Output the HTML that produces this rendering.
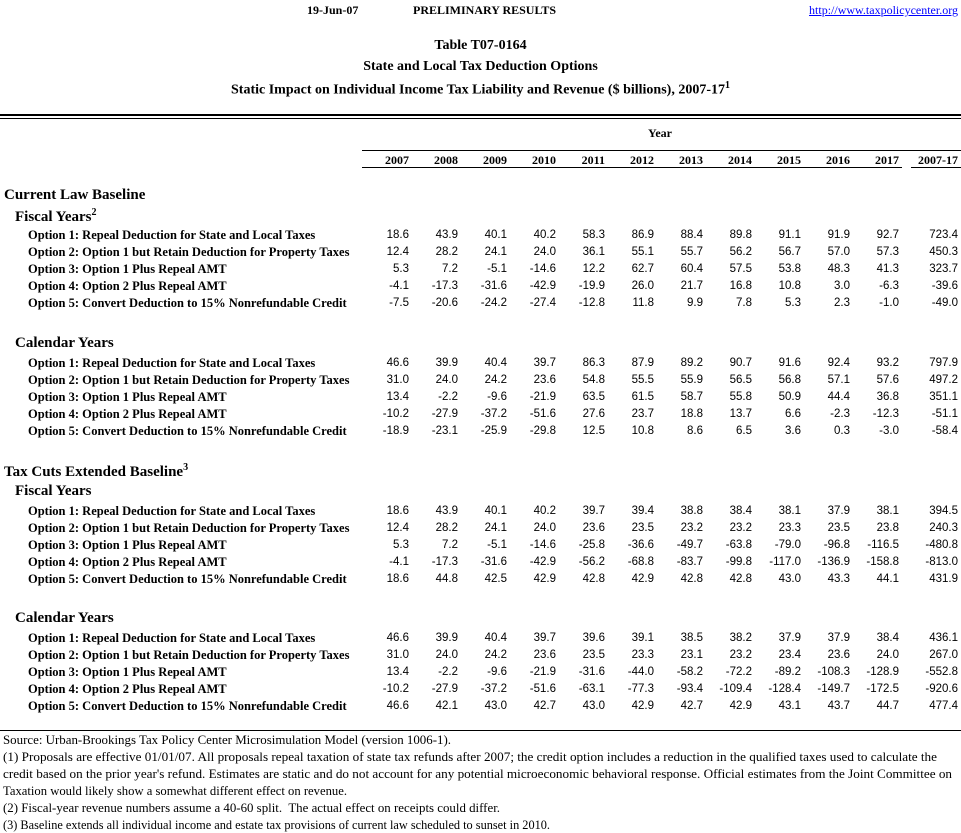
<!DOCTYPE html>
<html><head><meta charset="utf-8"><style>
body{margin:0;width:961px;height:833px;position:relative;background:#fff;color:#000;overflow:hidden;font-family:"Liberation Serif",serif}
.a{position:absolute;white-space:nowrap}
.b{font-weight:bold}
.r{position:absolute;left:0;width:961px;height:14px;line-height:14px;font-size:12px}
.r .l{position:absolute;left:28px;font-weight:bold;font-family:"Liberation Serif",serif;font-size:12.5px}
.r .n{position:absolute;left:360px;display:flex;font-family:"Liberation Sans",sans-serif;font-size:11.5px}
.n span{width:49px;text-align:right;display:block}
.n span:last-child{width:59px}
.hd .n span{font-family:"Liberation Serif",serif;font-weight:bold;font-size:12px}
.ln{position:absolute;background:#000;height:1px}
.h1{font-size:15px;font-weight:bold;left:4px}
.h2{font-size:15px;font-weight:bold;left:15px}
</style></head><body>
<div class="a b" style="left:307px;top:3px;font-size:12px">19-Jun-07</div>
<div class="a b" style="left:413px;top:3px;font-size:12px">PRELIMINARY RESULTS</div>
<div class="a" style="right:3px;top:3px;font-size:12px;color:#00f;text-decoration:underline">http://www.taxpolicycenter.org</div>
<div class="a b" style="left:0;width:961px;text-align:center;top:38px;font-size:14px">Table T07-0164</div>
<div class="a b" style="left:0;width:961px;text-align:center;top:59px;font-size:14px">State and Local Tax Deduction Options</div>
<div class="a b" style="left:0;width:961px;text-align:center;top:80px;font-size:14px">Static Impact on Individual Income Tax Liability and Revenue ($ billions), 2007-17<sup style="font-size:10px">1</sup></div>
<div class="ln" style="left:0;width:961px;top:114px;height:2px"></div>
<div class="ln" style="left:0;width:961px;top:118px"></div>
<div class="a b" style="left:648px;top:126px;font-size:12px">Year</div>
<div class="ln" style="left:362px;width:599px;top:150px"></div>
<div class="r hd" style="top:153px"><div class="n"><span>2007</span><span>2008</span><span>2009</span><span>2010</span><span>2011</span><span>2012</span><span>2013</span><span>2014</span><span>2015</span><span>2016</span><span>2017</span><span>2007-17</span></div></div>
<div class="ln" style="left:362px;width:540px;top:167px"></div>
<div class="ln" style="left:911px;width:50px;top:167px"></div>

<div class="a h1" style="top:187px">Current Law Baseline</div>
<div class="a h2" style="top:207px">Fiscal Years<sup style="font-size:10px">2</sup></div>
<div class="r" style="top:228px"><div class="l">Option 1: Repeal Deduction for State and Local Taxes</div><div class="n"><span>18.6</span><span>43.9</span><span>40.1</span><span>40.2</span><span>58.3</span><span>86.9</span><span>88.4</span><span>89.8</span><span>91.1</span><span>91.9</span><span>92.7</span><span>723.4</span></div></div>
<div class="r" style="top:245px"><div class="l">Option 2: Option 1 but Retain Deduction for Property Taxes</div><div class="n"><span>12.4</span><span>28.2</span><span>24.1</span><span>24.0</span><span>36.1</span><span>55.1</span><span>55.7</span><span>56.2</span><span>56.7</span><span>57.0</span><span>57.3</span><span>450.3</span></div></div>
<div class="r" style="top:262px"><div class="l">Option 3: Option 1 Plus Repeal AMT</div><div class="n"><span>5.3</span><span>7.2</span><span>-5.1</span><span>-14.6</span><span>12.2</span><span>62.7</span><span>60.4</span><span>57.5</span><span>53.8</span><span>48.3</span><span>41.3</span><span>323.7</span></div></div>
<div class="r" style="top:279px"><div class="l">Option 4: Option 2 Plus Repeal AMT</div><div class="n"><span>-4.1</span><span>-17.3</span><span>-31.6</span><span>-42.9</span><span>-19.9</span><span>26.0</span><span>21.7</span><span>16.8</span><span>10.8</span><span>3.0</span><span>-6.3</span><span>-39.6</span></div></div>
<div class="r" style="top:296px"><div class="l">Option 5: Convert Deduction to 15% Nonrefundable Credit</div><div class="n"><span>-7.5</span><span>-20.6</span><span>-24.2</span><span>-27.4</span><span>-12.8</span><span>11.8</span><span>9.9</span><span>7.8</span><span>5.3</span><span>2.3</span><span>-1.0</span><span>-49.0</span></div></div>

<div class="a h2" style="top:335px">Calendar Years</div>
<div class="r" style="top:356px"><div class="l">Option 1: Repeal Deduction for State and Local Taxes</div><div class="n"><span>46.6</span><span>39.9</span><span>40.4</span><span>39.7</span><span>86.3</span><span>87.9</span><span>89.2</span><span>90.7</span><span>91.6</span><span>92.4</span><span>93.2</span><span>797.9</span></div></div>
<div class="r" style="top:373px"><div class="l">Option 2: Option 1 but Retain Deduction for Property Taxes</div><div class="n"><span>31.0</span><span>24.0</span><span>24.2</span><span>23.6</span><span>54.8</span><span>55.5</span><span>55.9</span><span>56.5</span><span>56.8</span><span>57.1</span><span>57.6</span><span>497.2</span></div></div>
<div class="r" style="top:390px"><div class="l">Option 3: Option 1 Plus Repeal AMT</div><div class="n"><span>13.4</span><span>-2.2</span><span>-9.6</span><span>-21.9</span><span>63.5</span><span>61.5</span><span>58.7</span><span>55.8</span><span>50.9</span><span>44.4</span><span>36.8</span><span>351.1</span></div></div>
<div class="r" style="top:407px"><div class="l">Option 4: Option 2 Plus Repeal AMT</div><div class="n"><span>-10.2</span><span>-27.9</span><span>-37.2</span><span>-51.6</span><span>27.6</span><span>23.7</span><span>18.8</span><span>13.7</span><span>6.6</span><span>-2.3</span><span>-12.3</span><span>-51.1</span></div></div>
<div class="r" style="top:424px"><div class="l">Option 5: Convert Deduction to 15% Nonrefundable Credit</div><div class="n"><span>-18.9</span><span>-23.1</span><span>-25.9</span><span>-29.8</span><span>12.5</span><span>10.8</span><span>8.6</span><span>6.5</span><span>3.6</span><span>0.3</span><span>-3.0</span><span>-58.4</span></div></div>

<div class="a h1" style="top:462px">Tax Cuts Extended Baseline<sup style="font-size:10px">3</sup></div>
<div class="a h2" style="top:483px">Fiscal Years</div>
<div class="r" style="top:504px"><div class="l">Option 1: Repeal Deduction for State and Local Taxes</div><div class="n"><span>18.6</span><span>43.9</span><span>40.1</span><span>40.2</span><span>39.7</span><span>39.4</span><span>38.8</span><span>38.4</span><span>38.1</span><span>37.9</span><span>38.1</span><span>394.5</span></div></div>
<div class="r" style="top:521px"><div class="l">Option 2: Option 1 but Retain Deduction for Property Taxes</div><div class="n"><span>12.4</span><span>28.2</span><span>24.1</span><span>24.0</span><span>23.6</span><span>23.5</span><span>23.2</span><span>23.2</span><span>23.3</span><span>23.5</span><span>23.8</span><span>240.3</span></div></div>
<div class="r" style="top:538px"><div class="l">Option 3: Option 1 Plus Repeal AMT</div><div class="n"><span>5.3</span><span>7.2</span><span>-5.1</span><span>-14.6</span><span>-25.8</span><span>-36.6</span><span>-49.7</span><span>-63.8</span><span>-79.0</span><span>-96.8</span><span>-116.5</span><span>-480.8</span></div></div>
<div class="r" style="top:555px"><div class="l">Option 4: Option 2 Plus Repeal AMT</div><div class="n"><span>-4.1</span><span>-17.3</span><span>-31.6</span><span>-42.9</span><span>-56.2</span><span>-68.8</span><span>-83.7</span><span>-99.8</span><span>-117.0</span><span>-136.9</span><span>-158.8</span><span>-813.0</span></div></div>
<div class="r" style="top:572px"><div class="l">Option 5: Convert Deduction to 15% Nonrefundable Credit</div><div class="n"><span>18.6</span><span>44.8</span><span>42.5</span><span>42.9</span><span>42.8</span><span>42.9</span><span>42.8</span><span>42.8</span><span>43.0</span><span>43.3</span><span>44.1</span><span>431.9</span></div></div>

<div class="a h2" style="top:610px">Calendar Years</div>
<div class="r" style="top:631px"><div class="l">Option 1: Repeal Deduction for State and Local Taxes</div><div class="n"><span>46.6</span><span>39.9</span><span>40.4</span><span>39.7</span><span>39.6</span><span>39.1</span><span>38.5</span><span>38.2</span><span>37.9</span><span>37.9</span><span>38.4</span><span>436.1</span></div></div>
<div class="r" style="top:648px"><div class="l">Option 2: Option 1 but Retain Deduction for Property Taxes</div><div class="n"><span>31.0</span><span>24.0</span><span>24.2</span><span>23.6</span><span>23.5</span><span>23.3</span><span>23.1</span><span>23.2</span><span>23.4</span><span>23.6</span><span>24.0</span><span>267.0</span></div></div>
<div class="r" style="top:665px"><div class="l">Option 3: Option 1 Plus Repeal AMT</div><div class="n"><span>13.4</span><span>-2.2</span><span>-9.6</span><span>-21.9</span><span>-31.6</span><span>-44.0</span><span>-58.2</span><span>-72.2</span><span>-89.2</span><span>-108.3</span><span>-128.9</span><span>-552.8</span></div></div>
<div class="r" style="top:682px"><div class="l">Option 4: Option 2 Plus Repeal AMT</div><div class="n"><span>-10.2</span><span>-27.9</span><span>-37.2</span><span>-51.6</span><span>-63.1</span><span>-77.3</span><span>-93.4</span><span>-109.4</span><span>-128.4</span><span>-149.7</span><span>-172.5</span><span>-920.6</span></div></div>
<div class="r" style="top:699px"><div class="l">Option 5: Convert Deduction to 15% Nonrefundable Credit</div><div class="n"><span>46.6</span><span>42.1</span><span>43.0</span><span>42.7</span><span>43.0</span><span>42.9</span><span>42.7</span><span>42.9</span><span>43.1</span><span>43.7</span><span>44.7</span><span>477.4</span></div></div>

<div class="ln" style="left:0;width:961px;top:730px"></div>
<svg class="a" style="left:0;top:731px" width="961" height="102" font-family="Liberation Serif, serif" font-size="12.5">
<text x="3" y="13" textLength="448" lengthAdjust="spacingAndGlyphs">Source: Urban-Brookings Tax Policy Center Microsimulation Model (version 1006-1).</text>
<text x="3" y="30" textLength="934" lengthAdjust="spacingAndGlyphs">(1) Proposals are effective 01/01/07. All proposals repeal taxation of state tax refunds after 2007; the credit option includes a reduction in the qualified taxes used to calculate the</text>
<text x="3" y="47" textLength="949" lengthAdjust="spacingAndGlyphs">credit based on the prior year's refund. Estimates are static and do not account for any potential microeconomic behavioral response. Official estimates from the Joint Committee on</text>
<text x="3" y="64" textLength="344" lengthAdjust="spacingAndGlyphs">Taxation would likely show a somewhat different effect on revenue.</text>
<text x="3" y="81" textLength="497" lengthAdjust="spacingAndGlyphs" xml:space="preserve">(2) Fiscal-year revenue numbers assume a 40-60 split.  The actual effect on receipts could differ.</text>
<text x="3" y="98" textLength="547" lengthAdjust="spacingAndGlyphs">(3) Baseline extends all individual income and estate tax provisions of current law scheduled to sunset in 2010.</text>
</svg>
</body></html>
